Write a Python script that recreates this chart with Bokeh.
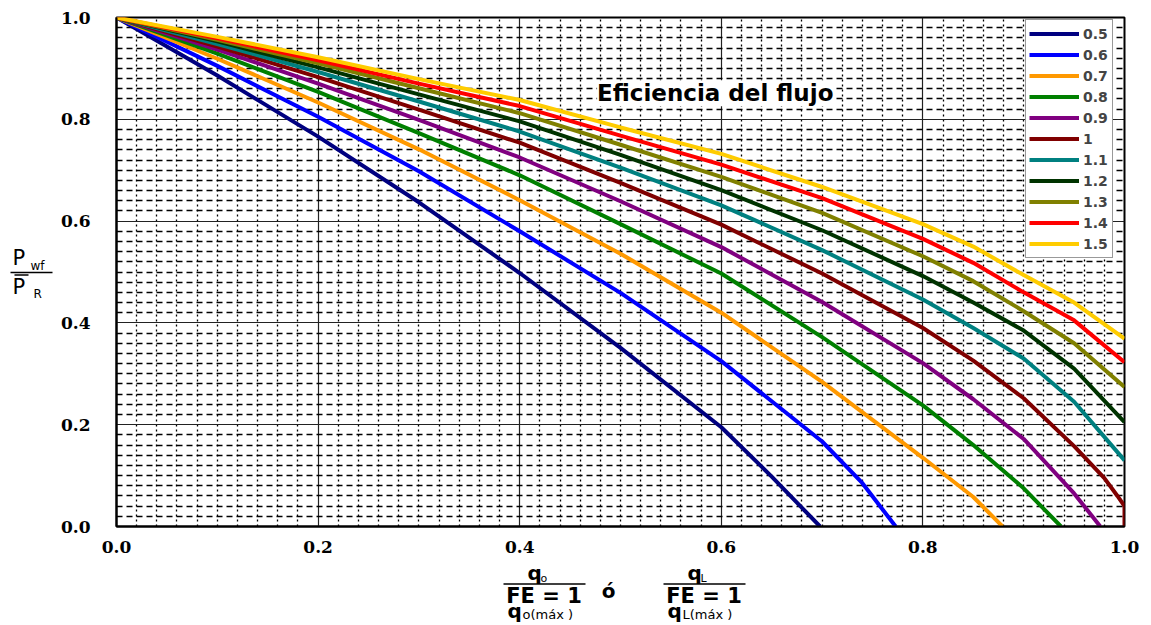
from bokeh.plotting import figure
from bokeh.models import Range1d, FixedTicker
from bokeh.layouts import column, row
from bokeh.core.properties import value
from bokeh.embed import file_html
from bokeh.resources import INLINE

# ---------------- data ----------------
fe_labels = ["0.5", "0.6", "0.7", "0.8", "0.9", "1", "1.1", "1.2", "1.3", "1.4", "1.5"]
fe_colors = ["#000080", "#0000FF", "#FF9900", "#008000", "#800080", "#800000",
             "#008080", "#003300", "#808000", "#FF0000", "#FFCC00"]

x_05 = [0, 0.1, 0.2, 0.3, 0.4, 0.5, 0.6, 0.65, 0.698]
y_05 = [1.0, 0.886, 0.766, 0.637, 0.498, 0.351, 0.195, 0.098, 0.0]

x_06 = [0, 0.1, 0.2, 0.3, 0.4, 0.5, 0.6, 0.7, 0.74, 0.773]
y_06 = [1.0, 0.905, 0.805, 0.698, 0.580, 0.459, 0.325, 0.167, 0.085, 0.0]

x_07 = [0, 0.1, 0.2, 0.3, 0.4, 0.5, 0.6, 0.7, 0.8, 0.85, 0.879]
y_07 = [1.0, 0.919, 0.833, 0.741, 0.641, 0.536, 0.420, 0.284, 0.135, 0.058, 0.0]

x_08 = [0, 0.1, 0.2, 0.3, 0.4, 0.5, 0.6, 0.7, 0.8, 0.85, 0.9, 0.937]
y_08 = [1.0, 0.929, 0.854, 0.773, 0.690, 0.594, 0.497, 0.372, 0.238, 0.160, 0.075, 0.0]

x_09 = [0, 0.1, 0.2, 0.3, 0.4, 0.5, 0.6, 0.7, 0.8, 0.85, 0.9, 0.95, 0.976]
y_09 = [1.0, 0.937, 0.870, 0.799, 0.725, 0.639, 0.549, 0.441, 0.321, 0.250, 0.172, 0.065, 0.0]

x_10 = [0, 0.1, 0.2, 0.3, 0.4, 0.5, 0.6, 0.7, 0.8, 0.85, 0.9, 0.95, 0.98, 0.993, 1.0, 1.0]
y_10 = [1.0, 0.943, 0.883, 0.819, 0.754, 0.675, 0.593, 0.497, 0.390, 0.326, 0.252, 0.158, 0.095, 0.060, 0.040, 0.0]

x_hi = [0, 0.1, 0.2, 0.3, 0.4, 0.5, 0.6, 0.7, 0.8, 0.85, 0.9, 0.95, 1.0]
y_11 = [1.0, 0.948, 0.893, 0.835, 0.776, 0.705, 0.631, 0.543, 0.446, 0.390, 0.330, 0.245, 0.130]
y_12 = [1.0, 0.953, 0.902, 0.849, 0.796, 0.730, 0.661, 0.582, 0.492, 0.440, 0.385, 0.310, 0.205]
y_13 = [1.0, 0.956, 0.910, 0.861, 0.812, 0.750, 0.687, 0.616, 0.531, 0.482, 0.423, 0.360, 0.274]
y_14 = [1.0, 0.959, 0.916, 0.870, 0.826, 0.768, 0.711, 0.645, 0.565, 0.518, 0.460, 0.405, 0.323]
y_15 = [1.0, 0.962, 0.922, 0.879, 0.838, 0.784, 0.732, 0.667, 0.594, 0.550, 0.494, 0.440, 0.369]

series_x = [x_05, x_06, x_07, x_08, x_09, x_10, x_hi, x_hi, x_hi, x_hi, x_hi]
series_y = [y_05, y_06, y_07, y_08, y_09, y_10, y_11, y_12, y_13, y_14, y_15]

tick_values = [0.0, 0.2, 0.4, 0.6, 0.8, 1.0]
tick_labels = ["0.0", "0.2", "0.4", "0.6", "0.8", "1.0"]
minor_values = [round(i * 0.02, 2) for i in range(51) if i % 10 != 0]

title_text = "Eficiencia del flujo"

# ---------------- main figure ----------------
p = figure(width=1097, height=559, output_backend="svg", toolbar_location=None,
           x_range=Range1d(0, 1), y_range=Range1d(0, 1),
           min_border_left=62, min_border_right=27, min_border_top=17, min_border_bottom=33)
p.background_fill_color = "white"
p.border_fill_color = "white"
p.outline_line_color = "black"
p.outline_line_width = 2

for ax in (p.xaxis[0], p.yaxis[0]):
    ax.ticker = FixedTicker(ticks=tick_values, minor_ticks=minor_values)
    ax.major_label_overrides = dict(zip(tick_values, tick_labels))
    ax.major_tick_line_color = None
    ax.minor_tick_line_color = None
    ax.axis_line_color = "black"
    ax.axis_line_width = 2
    ax.major_label_text_font = "DejaVu Serif"
    ax.major_label_text_font_style = "bold"
    ax.major_label_text_font_size = "17px"
    ax.major_label_text_color = "black"
p.xaxis.major_label_standoff = 8
p.yaxis.major_label_standoff = 20

for g in (p.xgrid[0], p.ygrid[0]):
    g.grid_line_color = "#222222"
    g.grid_line_width = 1.2
    g.minor_grid_line_color = "black"
    g.minor_grid_line_width = 1.3
p.xgrid.minor_grid_line_dash = "2 3"
p.ygrid.minor_grid_line_dash = "6 4"

for xs, ys, lab, col in zip(series_x, series_y, fe_labels, fe_colors):
    p.line(xs, ys, line_color=col, line_width=4, legend_label=lab)

lg = p.legend[0]
lg.location = (909, 268)
lg.margin = 0
lg.padding = 3
lg.spacing = 0
lg.glyph_width = 50
lg.glyph_height = 21
lg.label_height = 21
lg.label_width = 26
lg.label_standoff = 4
lg.label_text_font = "DejaVu Sans"
lg.label_text_font_style = "bold"
lg.label_text_font_size = "14px"
lg.border_line_color = "#333333"
lg.border_line_width = 1
lg.background_fill_alpha = 1.0

# chart title inside the plot area (white box behind it)
p.text(x=[0.594], y=[0.851], text=[title_text], text_align="center", text_baseline="middle",
       text_font=value("DejaVu Sans"), text_font_style="bold", text_font_size="23px",
       text_color="black", background_fill_color="white", background_fill_alpha=1.0)


def blank(w, h, x0, x1, y0, y1):
    f = figure(width=w, height=h, output_backend="svg", toolbar_location=None,
               x_range=Range1d(x0, x1), y_range=Range1d(y0, y1),
               x_axis_type=None, y_axis_type=None,
               min_border=0, min_border_left=0, min_border_right=0,
               min_border_top=0, min_border_bottom=0)
    f.outline_line_color = None
    f.background_fill_color = "white"
    f.border_fill_color = "white"
    return f


def txt(f, xs, ys, ts, size, bold=False, align="left"):
    f.text(x=xs, y=ys, text=ts, text_align=align, text_baseline="middle",
           text_font=value("DejaVu Sans"), text_font_style="bold" if bold else "normal",
           text_font_size=size, text_color="black")


# ---------------- y-axis label:  Pwf / PR  (frame aligned with the chart: 17..526 px) ----------------
ylab = blank(54, 559, 0, 54, 526, 17)
txt(ylab, [12, 12], [257, 286], ["P", "P"], "21px")
txt(ylab, [30], [265], ["wf"], "12px")
txt(ylab, [33], [293], ["R"], "12px")
ylab.segment(x0=[10, 14], y0=[272, 274.5], x1=[52, 28], y1=[272, 274.5],
             line_color="black", line_width=1.5)

# ---------------- x-axis label:  qo/(FE=1 qo(máx))  ó  qL/(FE=1 qL(máx)) ----------------
xlab = blank(1151, 66, 0, 1151, 625, 559)
for dx, sub in ((0, "o"), (160, "L")):
    txt(xlab, [527 + dx], [572], ["q"], "20px", bold=True)
    txt(xlab, [540 + dx], [578], [sub], "11px")
    xlab.segment(x0=[503 + dx], y0=[583.5], x1=[585 + dx], y1=[583.5],
                 line_color="black", line_width=1.5)
    txt(xlab, [543.5 + dx], [595], ["FE = 1"], "21px", bold=True, align="center")
    txt(xlab, [507 + dx], [610], ["q"], "20px", bold=True)
    txt(xlab, [522 + dx], [614], [sub + "(máx )"], "13px")
txt(xlab, [608], [590], ["ó"], "20px", bold=True, align="center")

layout = column(row(ylab, p), xlab)
open("out.html", "w").write(file_html(layout, INLINE))
